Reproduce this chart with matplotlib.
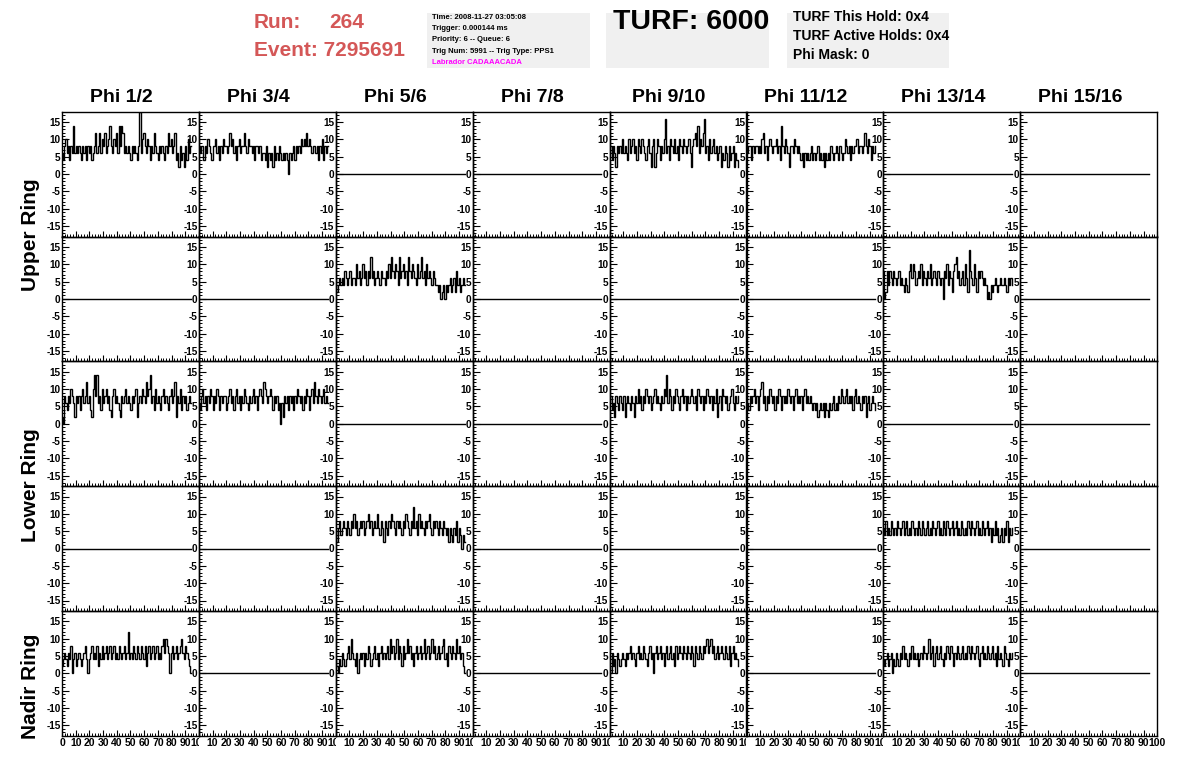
import matplotlib
matplotlib.use("Agg")
import matplotlib.pyplot as plt
import numpy as np
from matplotlib.patches import Rectangle
from matplotlib.ticker import MultipleLocator
from matplotlib.transforms import Bbox, TransformedBbox

plt.rcParams['font.family'] = ['Liberation Sans', 'DejaVu Sans']
plt.rcParams['axes.unicode_minus'] = False

# ---------------- header info ----------------
run_number = "264"
event_number = "7295691"
info_lines = ["Time: 2008-11-27 03:05:08",
              "Trigger: 0.000144 ms",
              "Priority: 6 -- Queue: 6",
              "Trig Num: 5991 -- Trig Type: PPS1"]
labrador_line = "Labrador CADAAACADA"
turf_text = "TURF: 6000"
turf_lines = ["TURF This Hold: 0x4", "TURF Active Holds: 0x4", "Phi Mask: 0"]

col_titles = ["Phi 1/2", "Phi 3/4", "Phi 5/6", "Phi 7/8",
              "Phi 9/10", "Phi 11/12", "Phi 13/14", "Phi 15/16"]
ring_labels = ["Upper Ring", "Lower Ring", "Nadir Ring"]
x_tick_values = [0, 10, 20, 30, 40, 50, 60, 70, 80, 90, 100]
y_tick_values = [-15, -10, -5, 0, 5, 10, 15]
sample_step = 0.95   # ns per sample

# ---------------- trace values ----------------
upper_a_phi12 = [6, 4, 8, 10, 6, 8, 4, 8, 6, 14,
                 6, 8, 6, 8, 6, 4, 8, 6, 8, 4,
                 8, 6, 8, 4, 6, 8, 12, 6, 8, 12,
                 6, 10, 8, 12, 6, 8, 10, 14, 8, 6,
                 10, 8, 12, 6, 14, 8, 14, 12, 6, 8,
                 6, 8, 6, 4, 8, 6, 8, 6, 4, 8,
                 18, 6, 10, 12, 8, 6, 10, 8, 4, 8,
                 6, 12, 8, 6, 4, 8, 6, 8, 6, 4,
                 8, 6, 12, 8, 10, 6, 8, 12, 4, 6,
                 2, 8, 4, 6, 2, 8, 4, 10, 6, 8]
upper_a_phi34 = [8, 6, 8, 8, 4, 8, 6, 10, 8, 6,
                 4, 8, 8, 10, 6, 8, 4, 8, 6, 10,
                 8, 8, 6, 8, 12, 8, 10, 6, 8, 4,
                 8, 10, 6, 8, 8, 12, 8, 6, 10, 8,
                 8, 6, 8, 4, 8, 8, 6, 8, 4, 6,
                 6, 4, 8, 2, 6, 4, 6, 2, 8, 4,
                 6, 4, 8, 6, 4, 6, 4, 6, 4, 0,
                 6, 4, 6, 8, 4, 8, 6, 8, 6, 10,
                 8, 10, 8, 12, 8, 10, 8, 6, 8, 8,
                 6, 8, 4, 8, 6, 10, 4, 8, 6, 8]
upper_a_phi910 = [6, 8, 4, 8, 6, 2, 8, 6, 8, 6,
                  10, 6, 8, 6, 4, 10, 6, 8, 10, 6,
                  8, 4, 10, 8, 6, 10, 8, 6, 4, 8,
                  10, 6, 2, 8, 10, 2, 6, 10, 8, 4,
                  8, 6, 10, 16, 6, 8, 4, 10, 8, 6,
                  10, 6, 8, 4, 10, 8, 6, 10, 8, 6,
                  8, 10, 6, 2, 8, 10, 12, 8, 14, 6,
                  10, 8, 12, 16, 6, 8, 4, 10, 6, 8,
                  10, 6, 8, 4, 6, 8, 2, 6, 4, 8,
                  6, 2, 8, 4, 6, 8, 2, 6, 4, 2]
upper_a_phi1112 = [8, 6, 8, 8, 4, 8, 6, 8, 8, 6,
                   8, 6, 10, 12, 6, 8, 4, 8, 10, 8,
                   6, 8, 8, 10, 6, 8, 4, 14, 8, 6,
                   10, 8, 6, 2, 8, 8, 6, 10, 8, 6,
                   8, 6, 4, 6, 2, 6, 4, 6, 4, 6,
                   8, 4, 6, 4, 6, 8, 4, 6, 4, 6,
                   2, 6, 4, 6, 4, 8, 6, 4, 6, 8,
                   6, 4, 8, 6, 4, 6, 10, 8, 6, 8,
                   4, 8, 6, 8, 8, 10, 6, 8, 8, 6,
                   8, 12, 8, 6, 10, 8, 4, 8, 6, 8]
upper_b_phi56 = [6, 2, 4, 6, 4, 6, 4, 8, 6, 4,
                 6, 8, 4, 6, 6, 4, 10, 6, 8, 4,
                 6, 10, 6, 8, 4, 8, 6, 12, 6, 8,
                 4, 6, 8, 6, 4, 8, 6, 6, 4, 8,
                 6, 10, 6, 12, 8, 6, 10, 8, 4, 12,
                 6, 8, 10, 6, 8, 4, 12, 8, 6, 10,
                 8, 6, 4, 10, 6, 8, 12, 6, 8, 4,
                 10, 6, 8, 6, 4, 8, 6, 4, 4, 2,
                 4, 0, 2, 4, 0, 4, 2, 4, 6, 2,
                 4, 6, 2, 8, 4, 6, 2, 4, 6, 4]
upper_b_phi1314 = [8, 0, 2, 8, 4, 8, 6, 4, 8, 6,
                   4, 6, 8, 4, 6, 4, 2, 6, 4, 2,
                   8, 10, 6, 10, 8, 4, 6, 8, 6, 10,
                   4, 8, 6, 4, 8, 6, 10, 4, 6, 8,
                   6, 4, 8, 6, 4, 6, 0, 8, 6, 10,
                   4, 8, 6, 2, 8, 10, 12, 6, 8, 4,
                   6, 8, 4, 10, 6, 2, 14, 8, 6, 4,
                   10, 6, 2, 8, 6, 8, 6, 4, 6, 4,
                   0, 2, 0, 4, 2, 4, 6, 4, 2, 4,
                   6, 4, 4, 6, 4, 2, 6, 4, 6, 4]
lower_a_phi12 = [2, 0, 8, 6, 4, 8, 6, 10, 8, 6,
                 2, 8, 6, 8, 4, 8, 10, 6, 8, 12,
                 6, 8, 4, 2, 10, 14, 8, 14, 6, 8,
                 4, 10, 6, 8, 10, 6, 8, 4, 2, 8,
                 10, 6, 8, 6, 4, 2, 8, 6, 8, 10,
                 6, 8, 6, 4, 8, 6, 8, 10, 2, 6,
                 8, 6, 10, 8, 6, 12, 8, 10, 14, 6,
                 8, 4, 10, 6, 8, 6, 4, 8, 10, 6,
                 8, 6, 4, 8, 10, 6, 8, 12, 2, 8,
                 6, 10, 4, 8, 6, 8, 4, 6, 8, 6]
lower_a_phi34 = [6, 4, 8, 10, 6, 8, 4, 8, 6, 10,
                 8, 4, 8, 6, 10, 8, 4, 8, 6, 8,
                 8, 4, 6, 8, 10, 6, 8, 4, 8, 10,
                 6, 8, 4, 8, 6, 10, 8, 6, 4, 8,
                 6, 8, 10, 6, 8, 4, 8, 10, 8, 6,
                 12, 10, 8, 6, 8, 10, 8, 4, 8, 6,
                 8, 4, 6, 0, 6, 2, 8, 6, 8, 4,
                 8, 6, 8, 4, 8, 6, 10, 8, 6, 8,
                 4, 8, 6, 10, 8, 4, 8, 10, 6, 12,
                 8, 6, 10, 8, 6, 8, 10, 6, 8, 6]
lower_a_phi910 = [6, 8, 4, 6, 2, 8, 6, 4, 8, 6,
                  4, 8, 2, 6, 8, 6, 4, 8, 6, 2,
                  8, 6, 10, 6, 8, 4, 8, 6, 10, 8,
                  6, 8, 4, 6, 8, 10, 6, 8, 6, 4,
                  8, 6, 10, 8, 14, 6, 10, 8, 4, 8,
                  6, 10, 8, 6, 4, 8, 10, 6, 8, 4,
                  8, 6, 8, 10, 8, 6, 8, 4, 10, 8,
                  6, 8, 4, 8, 6, 10, 8, 6, 8, 4,
                  8, 6, 10, 2, 6, 8, 4, 10, 8, 6,
                  8, 4, 6, 8, 10, 6, 4, 8, 6, 8]
lower_a_phi1112 = [8, 6, 4, 8, 6, 8, 10, 6, 8, 4,
                   8, 10, 12, 6, 8, 4, 8, 6, 10, 8,
                   6, 8, 4, 8, 6, 10, 8, 4, 8, 6,
                   8, 6, 10, 8, 6, 8, 4, 8, 10, 6,
                   8, 6, 8, 4, 8, 10, 6, 8, 6, 8,
                   6, 4, 6, 4, 6, 2, 4, 6, 4, 6,
                   2, 6, 4, 2, 6, 4, 6, 8, 4, 6,
                   4, 8, 6, 10, 8, 6, 8, 10, 6, 8,
                   6, 8, 4, 8, 10, 6, 8, 6, 4, 8,
                   6, 8, 2, 6, 8, 4, 6, 8, 6, 4]
lower_b_phi56 = [6, 2, 6, 8, 4, 6, 8, 6, 4, 8,
                 6, 4, 8, 6, 10, 6, 8, 4, 6, 8,
                 6, 8, 4, 6, 8, 10, 6, 8, 4, 6,
                 8, 6, 10, 6, 4, 8, 6, 2, 8, 6,
                 4, 8, 6, 10, 8, 6, 4, 8, 6, 8,
                 6, 4, 8, 6, 10, 8, 6, 4, 8, 6,
                 12, 6, 8, 4, 10, 6, 8, 6, 4, 8,
                 6, 8, 10, 6, 4, 8, 6, 8, 6, 4,
                 8, 6, 4, 8, 6, 4, 6, 2, 6, 4,
                 2, 6, 4, 8, 2, 6, 4, 0, 4, 2]
lower_b_phi1314 = [6, 4, 8, 4, 6, 4, 8, 6, 4, 6,
                   4, 8, 6, 4, 6, 8, 4, 6, 8, 4,
                   6, 4, 8, 6, 4, 6, 4, 8, 6, 4,
                   8, 6, 4, 6, 8, 4, 6, 4, 8, 6,
                   4, 6, 8, 4, 6, 4, 8, 6, 4, 8,
                   6, 4, 6, 8, 4, 6, 8, 4, 6, 4,
                   8, 6, 4, 6, 4, 8, 6, 4, 8, 6,
                   4, 6, 8, 4, 6, 4, 8, 6, 4, 6,
                   8, 4, 6, 2, 6, 4, 8, 4, 6, 2,
                   4, 6, 2, 6, 4, 8, 2, 6, 4, 6]
nadir_phi12 = [2, 4, 6, 4, 2, 6, 4, 8, 0, 4,
               6, 2, 4, 6, 4, 2, 4, 6, 8, 4,
               0, 4, 6, 8, 4, 6, 4, 8, 2, 6,
               4, 8, 4, 6, 8, 4, 6, 8, 4, 6,
               8, 4, 6, 4, 8, 6, 4, 6, 8, 4,
               6, 12, 4, 6, 4, 8, 6, 4, 8, 6,
               4, 8, 6, 4, 8, 2, 6, 8, 4, 6,
               8, 4, 6, 8, 4, 6, 4, 8, 10, 6,
               10, 8, 6, 0, 6, 8, 4, 6, 8, 4,
               6, 8, 10, 6, 4, 8, 6, 4, 2, 0]
nadir_phi56 = [4, 2, 0, 4, 2, 6, 4, 2, 4, 6,
               8, 4, 10, 6, 4, 2, 6, 0, 4, 6,
               4, 6, 2, 6, 4, 8, 6, 2, 4, 6,
               8, 4, 6, 2, 6, 8, 4, 6, 4, 6,
               8, 4, 10, 6, 8, 4, 6, 10, 4, 8,
               6, 2, 8, 4, 6, 10, 6, 8, 4, 6,
               2, 6, 8, 4, 6, 8, 4, 6, 10, 4,
               6, 8, 4, 6, 10, 6, 8, 4, 6, 8,
               4, 6, 8, 10, 4, 6, 2, 8, 6, 4,
               8, 6, 4, 10, 6, 8, 4, 6, 2, 0]
nadir_phi910 = [2, 0, 6, 2, 4, 0, 6, 4, 2, 4,
                6, 4, 2, 6, 4, 6, 8, 4, 6, 4,
                2, 6, 8, 4, 6, 4, 8, 6, 4, 2,
                6, 8, 4, 6, 0, 6, 8, 4, 6, 8,
                4, 6, 2, 6, 8, 4, 6, 8, 4, 6,
                2, 8, 4, 6, 8, 6, 4, 8, 6, 4,
                8, 6, 4, 8, 6, 2, 8, 6, 4, 8,
                6, 4, 8, 6, 8, 10, 6, 8, 10, 6,
                8, 4, 6, 8, 4, 6, 8, 6, 4, 8,
                6, 4, 8, 2, 6, 8, 4, 6, 4, 2]
nadir_phi1314 = [4, 2, 4, 6, 2, 4, 6, 0, 4, 2,
                 6, 4, 2, 6, 4, 8, 4, 6, 4, 2,
                 6, 4, 8, 4, 6, 4, 6, 2, 4, 6,
                 4, 8, 6, 4, 6, 10, 4, 6, 8, 2,
                 6, 8, 4, 6, 8, 4, 2, 6, 4, 8,
                 6, 4, 8, 6, 2, 6, 4, 8, 6, 4,
                 6, 8, 4, 6, 4, 8, 6, 4, 8, 6,
                 4, 6, 8, 4, 2, 6, 8, 4, 6, 4,
                 8, 6, 4, 6, 8, 4, 6, 2, 8, 4,
                 6, 4, 2, 8, 6, 4, 2, 6, 4, 6]
flat_channel = [0] * 100   # channels with no data read out

# (row, column) -> trace
active = {
    (0, 0): upper_a_phi12, (0, 1): upper_a_phi34, (0, 4): upper_a_phi910, (0, 5): upper_a_phi1112,
    (1, 2): upper_b_phi56, (1, 6): upper_b_phi1314,
    (2, 0): lower_a_phi12, (2, 1): lower_a_phi34, (2, 4): lower_a_phi910, (2, 5): lower_a_phi1112,
    (3, 2): lower_b_phi56, (3, 6): lower_b_phi1314,
    (4, 0): nadir_phi12, (4, 2): nadir_phi56, (4, 4): nadir_phi910, (4, 6): nadir_phi1314,
}

# ---------------- figure ----------------
W, H = 1196, 772
fig = plt.figure(figsize=(W / 100, H / 100), dpi=100)
fig.patch.set_facecolor("white")


def fx(px):
    return px / W


def fy(py):
    return 1 - py / H


left0, top0 = 62.0, 111.7
pw, ph = 136.9, 124.8
nrows, ncols = 5, 8
red = "#d45757"

for r in range(nrows):
    for c in range(ncols):
        lpx = left0 + c * pw
        tpx = top0 + r * ph
        ax = fig.add_axes([fx(lpx), fy(tpx + ph), pw / W, ph / H])
        ax.set_facecolor("none")
        vals = np.array(active.get((r, c), flat_channel), dtype=float)
        t = np.arange(len(vals)) * sample_step
        ax.plot(t, vals, color="black", lw=1.0, drawstyle="steps-mid",
                solid_joinstyle="miter")
        ax.set_xlim(0, 100)
        ax.set_ylim(-18, 18)
        ax.set_yticks(y_tick_values)
        ax.yaxis.set_minor_locator(MultipleLocator(1))
        ax.xaxis.set_minor_locator(MultipleLocator(2))
        ax.tick_params(axis="y", which="major", direction="in", length=5,
                       width=0.8, labelsize=7.2, pad=1)
        ax.tick_params(axis="y", which="minor", direction="in", length=2.5, width=0.7)
        ax.tick_params(axis="x", which="major", direction="in", length=4,
                       width=0.8, labelsize=7.5, pad=1.5)
        ax.tick_params(axis="x", which="minor", direction="in", length=2, width=0.7)
        for lab in ax.get_yticklabels():
            lab.set_fontweight("bold")
        for s in ax.spines.values():
            s.set_linewidth(1.0)
        if r == nrows - 1:
            labels = [str(v) for v in x_tick_values]
            if c > 0:
                labels[0] = ""
            ax.set_xticks(x_tick_values, labels)
            for lab in ax.get_xticklabels():
                lab.set_fontweight("bold")
            if c < ncols - 1:
                clip = TransformedBbox(Bbox([[0, 0], [fx(lpx + pw), 1]]), fig.transFigure)
                last = ax.xaxis.get_major_ticks()[-1]
                last.label1.set_clip_box(clip)
                last.label1.set_clip_on(True)
        else:
            ax.set_xticks(x_tick_values)
            ax.set_xticklabels([])
        if r == 0:
            fig.text(fx(lpx + pw / 2 - 9), fy(97), col_titles[c], ha="center",
                     va="center", fontsize=14, fontweight="bold")

# ring labels
for lab, ypx in zip(ring_labels, [235, 485, 686]):
    fig.text(fx(30), fy(ypx), lab, rotation=90, ha="center", va="center",
             fontsize=15, fontweight="bold")

# ---------------- header ----------------
fig.text(fx(254), fy(22), "Run:", color=red, fontsize=15, fontweight="bold",
         ha="left", va="center")
fig.text(fx(329), fy(22), run_number, color=red, fontsize=15, fontweight="bold",
         ha="left", va="center")
fig.text(fx(254), fy(50), "Event: " + event_number, color=red, fontsize=15,
         fontweight="bold", ha="left", va="center")

for (x0, x1) in [(427, 590), (606, 769), (787, 949)]:
    fig.add_artist(Rectangle((fx(x0), fy(68)), (x1 - x0) / W, 55 / H,
                             transform=fig.transFigure, facecolor="#f0f0f0",
                             edgecolor="none", zorder=0))

for i, line in enumerate(info_lines):
    fig.text(fx(432), fy(17.5 + i * 11.2), line, fontsize=5.5, fontweight="bold",
             ha="left", va="center")
fig.text(fx(432), fy(62), labrador_line, fontsize=5.5, fontweight="bold",
         color="#ff00ff", ha="left", va="center")

fig.text(fx(613), fy(22), turf_text, fontsize=20.5, fontweight="bold",
         ha="left", va="center")

for i, line in enumerate(turf_lines):
    fig.text(fx(793), fy(17 + i * 19), line, fontsize=10, fontweight="bold",
             ha="left", va="center")

fig.savefig("out.png", dpi=100)
